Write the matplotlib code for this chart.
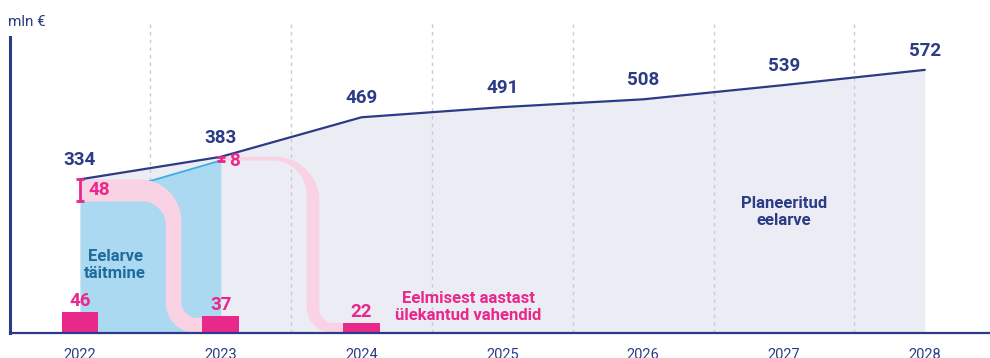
import numpy as np
import matplotlib.pyplot as plt

plt.rcParams['font.family'] = ['Roboto', 'DejaVu Sans']

# mln € per year
years = np.array([2022, 2023, 2024, 2025, 2026, 2027, 2028])
budget = np.array([334, 383, 469, 491, 508, 539, 572])
carry_years = np.array([2022, 2023, 2024])
carry_in = np.array([46, 37, 22])      # carried over from previous year
unused_years = np.array([2022, 2023])
unused = np.array([48, 8])             # left unspent at year end
executed = budget[:2] - unused

NAVY = '#2c3b85'
PINK = '#e8288a'
PINK_LIGHT = '#f9d2e4'
BLUE = '#abd9f1'
BLUE_EDGE = '#3aaee2'
GREY = '#ecedf4'
GRID = '#c6c9dc'

# pixel scale of the axes (used for rounded corners of the flow bands)
PX_X = 140.8     # px per year
PX_Y = 0.46      # px per mln

fig = plt.figure(figsize=(9.9, 3.58), dpi=100)
ax = fig.add_axes([10 / 990, 25 / 358, 980 / 990, 313 / 358])
ax.set_xlim(2021.503, 2021.503 + 980 / PX_X)
ax.set_ylim(0, 313 / PX_Y)


def step_edge(x0, y_top, x_vert, y_bot, x1, r_top, r_bot, n=40):
    # horizontal -> rounded turn down -> vertical -> rounded turn right
    rtx, rty = r_top / PX_X, r_top / PX_Y
    rbx, rby = r_bot / PX_X, r_bot / PX_Y
    t1 = np.linspace(np.pi / 2, 0, n)
    t2 = np.linspace(np.pi, 1.5 * np.pi, n)
    xs = np.concatenate([[x0], x_vert - rtx + rtx * np.cos(t1),
                         x_vert + rbx + rbx * np.cos(t2), [x1]])
    ys = np.concatenate([[y_top], y_top - rty + rty * np.sin(t1),
                         y_bot + rby + rby * np.sin(t2), [y_bot]])
    return xs, ys


def flow_band(upper, lower):
    ux, uy = upper
    lx, ly = lower
    ax.fill(np.concatenate([ux, lx[::-1]]), np.concatenate([uy, ly[::-1]]),
            color=PINK_LIGHT, lw=0, zorder=4)


# planned budget area and line
ax.fill_between(years, 0, budget, color=GREY, lw=0, zorder=1)
for xv in np.arange(2022.5, 2028, 1.0):
    ax.axvline(xv, color=GRID, lw=1, ls=(0, (2.5, 3)), zorder=2)

# executed budget
ax.fill_between(unused_years, 0, executed, color=BLUE, lw=0, zorder=3)
ax.plot(unused_years, executed, color=BLUE_EDGE, lw=1.3, zorder=3.5)

# carry-over flows into next year
w = 0.26
flow_band(step_edge(2022, budget[0], 2022.72, 33, 2023 - w / 2, 42, 16),
          step_edge(2022, executed[0], 2022.61, 0, 2023 - w / 2, 24, 30))
flow_band(step_edge(2023, budget[1], 2023.70, 22, 2024 - w / 2, 44, 14),
          step_edge(2023, executed[1], 2023.61, 0, 2024 - w / 2, 34, 26))

ax.plot(years, budget, color=NAVY, lw=1.6, zorder=5, solid_capstyle='round')

ax.bar(carry_years, carry_in, width=w, color=PINK, zorder=6)
ax.errorbar(unused_years, budget[:2] - unused / 2, yerr=unused / 2, fmt='none',
            ecolor=PINK, elinewidth=2, capsize=3, capthick=2, zorder=7)

for x, v in zip(years, budget):
    ax.annotate(str(v), (x, v), xytext=(0, 10), textcoords='offset points',
                ha='center', va='baseline', fontsize=13.5, fontweight='bold',
                color=NAVY, zorder=8)
for x, v in zip(carry_years, carry_in):
    ax.annotate(str(v), (x, v), xytext=(0, 4), textcoords='offset points',
                ha='center', va='baseline', fontsize=13.5, fontweight='bold',
                color=PINK, zorder=8)
for x, top, v in zip(unused_years, budget[:2], unused):
    ax.annotate(str(v), (x, top - v / 2 if v > 10 else top - v),
                xytext=(6, 0), textcoords='offset points',
                ha='left', va='center', fontsize=13.5, fontweight='bold',
                color=PINK, zorder=8)

ax.text(2022.25, 148, 'Eelarve\ntäitmine', ha='center', va='center',
        fontsize=12, fontweight='bold', color='#1f6c9c', linespacing=1.15,
        zorder=8)
ax.text(2027.0, 263, 'Planeeritud\neelarve', ha='center', va='center',
        fontsize=12, fontweight='bold', color=NAVY, linespacing=1.15, zorder=8)
ax.text(2024.76, 56, 'Eelmisest aastast\nülekantud vahendid', ha='center',
        va='center', fontsize=12, fontweight='bold', color=PINK,
        linespacing=1.2, zorder=8)

fig.text(8 / 990, 1 - 22 / 358, 'mln €', ha='left', va='center',
         fontsize=11, color=NAVY)

for s in ['top', 'right']:
    ax.spines[s].set_visible(False)
ax.spines['left'].set_color(NAVY)
ax.spines['left'].set_linewidth(2.2)
ax.spines['left'].set_bounds(0, 296 / PX_Y)
ax.spines['bottom'].set_color(NAVY)
ax.spines['bottom'].set_linewidth(1.6)
ax.spines['bottom'].set_zorder(9)
ax.set_yticks([])
ax.set_xticks(years)
ax.set_xticklabels([str(y) for y in years])
ax.tick_params(axis='x', length=0, pad=11, labelsize=10.5, labelcolor=NAVY)
ax.set_facecolor('none')

fig.savefig('out.png', dpi=100)
